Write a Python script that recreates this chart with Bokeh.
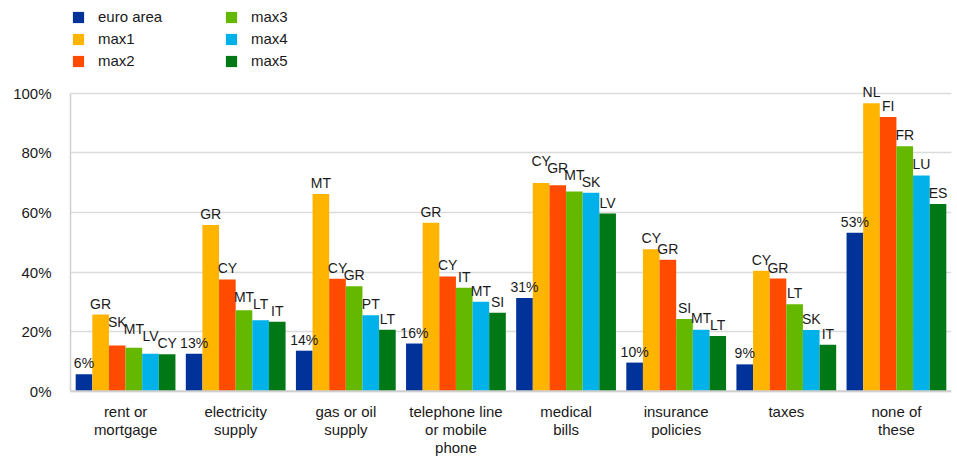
import numpy as np
from bokeh.plotting import figure
from bokeh.models import (ColumnDataSource, Range1d, FixedTicker, PrintfTickFormatter,
                          Legend, LegendItem, LabelSet, Span)
from bokeh.core.properties import value
from bokeh.embed import file_html
from bokeh.resources import INLINE

categories = ["rent or\nmortgage", "electricity\nsupply", "gas or oil\nsupply",
              "telephone line\nor mobile\nphone", "medical\nbills", "insurance\npolicies",
              "taxes", "none of\nthese"]
series_names = ["euro area", "max1", "max2", "max3", "max4", "max5"]
euro_area = [5.7, 12.6, 13.6, 16.0, 31.3, 9.6, 9.0, 53.2]
max1 = [25.7, 55.8, 66.2, 56.5, 69.9, 47.6, 40.4, 96.6]
max2 = [15.3, 37.5, 37.7, 38.5, 69.1, 44.1, 37.8, 92.0]
max3 = [14.6, 27.2, 35.2, 34.7, 67.0, 24.2, 29.2, 82.2]
max4 = [12.6, 23.8, 25.5, 30.0, 66.6, 20.6, 20.5, 72.4]
max5 = [12.4, 23.3, 20.6, 26.3, 59.6, 18.5, 15.6, 62.8]
max1_codes = ["GR", "GR", "MT", "GR", "CY", "CY", "CY", "NL"]
max2_codes = ["SK", "CY", "CY", "CY", "GR", "GR", "GR", "FI"]
max3_codes = ["MT", "MT", "GR", "IT", "MT", "SI", "LT", "FR"]
max4_codes = ["LV", "LT", "PT", "MT", "SK", "MT", "SK", "LU"]
max5_codes = ["CY", "IT", "LT", "SI", "LV", "LT", "IT", "ES"]
y_ticks = [0, 20, 40, 60, 80, 100]

colors = ["#003299", "#FFB400", "#FF4B00", "#65B800", "#00B1EA", "#007816"]
values = [euro_area, max1, max2, max3, max4, max5]
labels = [[f"{v:.0f}%" for v in euro_area], max1_codes, max2_codes, max3_codes,
          max4_codes, max5_codes]

FONT = "Liberation Sans"
TXT = "#1a1a1a"

# layout geometry (pixels in the figure)
H, W = 457, 957
y0_px, y100_px = 390.7, 92.7
ppu = (y0_px - y100_px) / 100.0
y_top = 100 + y100_px / ppu
y_bot = -(H - y0_px) / ppu

# simple label collision avoidance (lift a label above its right neighbour)
GAP, STEP, CAP = 6.0, 7.0, 10.0
vals_arr = np.array(values, dtype=float)          # series x category
default_b = y0_px - vals_arr * ppu - GAP           # screen y of label baseline
final_b = default_b.copy()
for c in range(vals_arr.shape[1]):
    for s in range(vals_arr.shape[0] - 2, -1, -1):
        nb = final_b[s + 1, c]
        d = default_b[s, c]
        if nb - STEP < d < nb + CAP:
            final_b[s, c] = nb - STEP
lift = default_b - final_b

p = figure(width=W, height=H, output_backend="svg", toolbar_location=None,
           x_range=Range1d(-0.5, 7.5), y_range=Range1d(y_bot, y_top),
           min_border_left=70, min_border_right=6, min_border_top=0, min_border_bottom=0)
p.outline_line_color = None
p.xaxis.visible = False

w = 0.151
idx = np.arange(len(categories))
items = []
for i, (name, vals, col, labs) in enumerate(zip(series_names, values, colors, labels)):
    src = ColumnDataSource(dict(x=idx + (i - 2.5) * w, top=vals, lab=labs,
                                off=3 + lift[i]))
    r = p.vbar(x="x", top="top", width=w, source=src, fill_color=col, line_color=None)
    items.append(LegendItem(label=name, renderers=[r]))
    ls = LabelSet(x="x", y="top", text="lab", source=src, text_align="center",
                  text_baseline="bottom", y_offset="off", text_font=value(FONT),
                  text_font_size=value("14px"), text_color=TXT)
    p.add_layout(ls)

legend = Legend(items=items, location=(1, H - 70), orientation="vertical", nrows=3,
                glyph_width=14, glyph_height=14, label_height=19, label_width=123,
                label_standoff=13, spacing=3, padding=0, margin=0,
                label_text_font=FONT, label_text_font_size="15px", label_text_color=TXT,
                border_line_color=None, background_fill_alpha=0)
p.add_layout(legend, "center")

# category labels under the bars
cat_src = ColumnDataSource(dict(x=idx, y=np.zeros(len(idx)), t=categories))
p.text(x="x", y="y", text="t", source=cat_src, text_align="center", text_baseline="top",
       y_offset=12, text_font=value(FONT), text_font_size=value("15px"),
       text_color=TXT, text_line_height=1.04)

p.add_layout(Span(location=0, dimension="width", line_color="#d0d0d0", line_width=2))

p.xgrid.grid_line_color = None
p.ygrid.grid_line_color = "#dcdcdc"
p.ygrid.grid_line_width = 1.5

p.yaxis.ticker = FixedTicker(ticks=y_ticks)
p.yaxis.bounds = (0, 100)
p.yaxis.formatter = PrintfTickFormatter(format="%d%%")
p.yaxis.major_tick_line_color = None
p.yaxis.minor_tick_line_color = None
p.yaxis.axis_line_color = "#d0d0d0"
p.yaxis.axis_line_width = 1.5
p.yaxis.major_label_text_font = FONT
p.yaxis.major_label_text_font_size = "15px"
p.yaxis.major_label_text_color = TXT
p.yaxis.major_label_standoff = 13

open("out.html", "w").write(file_html(p, INLINE))
